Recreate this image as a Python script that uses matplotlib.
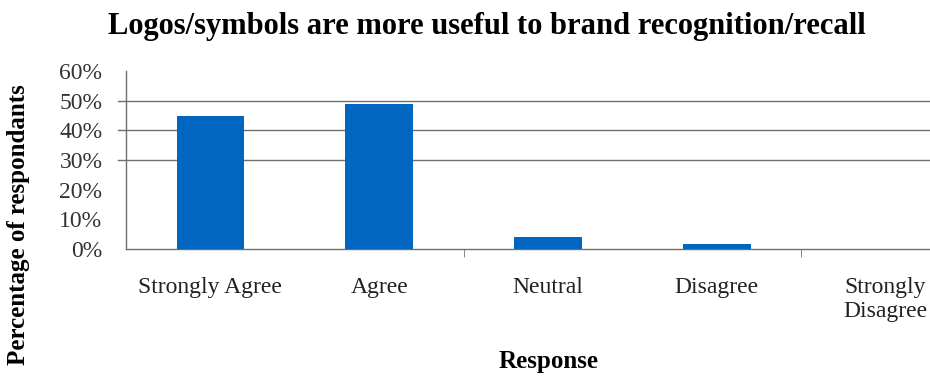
import matplotlib
matplotlib.use("Agg")
import matplotlib.pyplot as plt

# data
categories = ["Strongly Agree", "Agree", "Neutral", "Disagree", "Strongly\nDisagree"]
percent = [45, 49, 4, 1.7, 0]
y_ticks = [0, 10, 20, 30, 40, 50, 60]
grid_levels = [30, 40, 50]

BAR_COLOR = "#0066C0"
SERIF = ["Liberation Serif", "DejaVu Serif"]

fig = plt.figure(figsize=(9.3, 3.77), dpi=100, facecolor="white")
# plot area runs off the right edge, like the cropped original
ax = fig.add_axes([126 / 930, 1 - 249 / 377, 844 / 930, 178 / 377])

x = range(len(categories))
ax.bar(x, percent, width=0.4, color=BAR_COLOR, zorder=3)

# grid lines (only the upper ones show in the original)
for lvl in grid_levels:
    ax.axhline(lvl, xmin=-0.009, xmax=1, color="#707070", lw=1.0, clip_on=False, zorder=1)

ax.set_xlim(-0.5, len(categories) - 0.5)
ax.set_ylim(0, 60)
ax.set_yticks(y_ticks)
ax.set_yticklabels([f"{v}%" for v in y_ticks], fontfamily=SERIF, fontsize=17, color="#333333")
ax.tick_params(axis="y", length=0, pad=17)

ax.set_xticks(list(x))
ax.set_xticklabels(categories, fontfamily=SERIF, fontsize=17, color="#222222")
ax.tick_params(axis="x", which="major", length=0, pad=20)
# tick marks at every other category boundary
ax.set_xticks([1.5, 3.5], minor=True)
ax.tick_params(axis="x", which="minor", length=6, color="#707070", direction="out")

for side in ["top", "right"]:
    ax.spines[side].set_visible(False)
for side in ["left", "bottom"]:
    ax.spines[side].set_color("#707070")
    ax.spines[side].set_linewidth(1.0)

fig.text(0.523, 0.931, "Logos/symbols are more useful to brand recognition/recall",
         ha="center", va="center", fontfamily=SERIF, fontsize=22, fontweight="bold")
fig.text(0.590, 0.04, "Response", ha="center", va="center",
         fontfamily=SERIF, fontsize=18, fontweight="bold")
fig.text(0.02, 0.403, "Percentage of respondants", ha="center", va="center",
         rotation=90, fontfamily=SERIF, fontsize=18, fontweight="bold")

plt.savefig("out.png", dpi=100, facecolor=fig.get_facecolor())
